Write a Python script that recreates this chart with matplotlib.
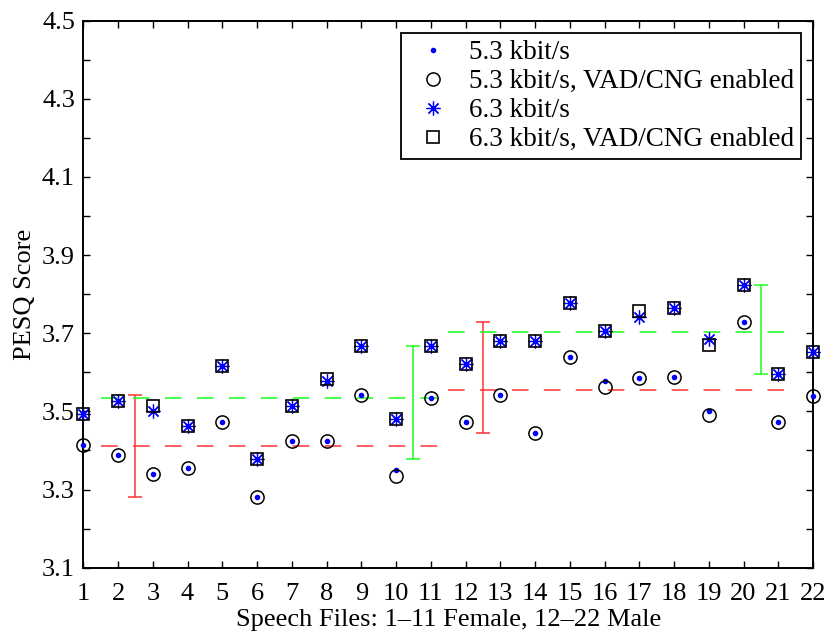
import matplotlib.pyplot as plt
import numpy as np

# PESQ scores per speech file (1-11 female, 12-22 male)
files = np.arange(1, 23)
pesq_53 = [3.415, 3.389, 3.341, 3.354, 3.472, 3.282, 3.425, 3.423, 3.541, 3.350, 3.535,
           3.474, 3.542, 3.446, 3.639, 3.579, 3.586, 3.589, 3.502, 3.729, 3.473, 3.539]
pesq_53_vad = [3.415, 3.389, 3.341, 3.354, 3.472, 3.282, 3.425, 3.423, 3.541, 3.335, 3.535,
               3.474, 3.542, 3.446, 3.639, 3.562, 3.586, 3.589, 3.491, 3.729, 3.473, 3.539]
pesq_63 = [3.493, 3.527, 3.502, 3.462, 3.617, 3.379, 3.513, 3.577, 3.668, 3.480, 3.668,
           3.621, 3.679, 3.679, 3.778, 3.706, 3.742, 3.764, 3.685, 3.824, 3.595, 3.653]
pesq_63_vad = [3.493, 3.527, 3.513, 3.462, 3.617, 3.379, 3.513, 3.583, 3.668, 3.480, 3.668,
               3.621, 3.679, 3.679, 3.778, 3.706, 3.757, 3.764, 3.670, 3.824, 3.595, 3.653]

labels = ['5.3 kbit/s', '5.3 kbit/s, VAD/CNG enabled',
          '6.3 kbit/s', '6.3 kbit/s, VAD/CNG enabled']

plt.rcParams['font.family'] = ['Liberation Serif', 'DejaVu Serif']
plt.rcParams['font.size'] = 19
plt.rcParams['lines.scale_dashes'] = False

fig = plt.figure(figsize=(8.28, 6.35), dpi=100)
ax = fig.add_axes([0.1006, 0.106, 0.8813, 0.8614])

blue = (0, 0, 1)
red = (1, 0.2, 0.2)
green = (0.1, 1, 0.1)

ax.plot(files, pesq_53, ls='none', marker='.', ms=6, color=blue, label=labels[0], clip_on=False, zorder=3)
ax.plot(files, pesq_53_vad, ls='none', marker='o', ms=9.5, mfc='none', mec='k', mew=1.1,
        label=labels[1], clip_on=False, zorder=3)
ax.plot(files, pesq_63, ls='none', marker=(8, 2, 0), ms=10, mec=blue, mew=0.9,
        label=labels[2], clip_on=False, zorder=3)
ax.plot(files, pesq_63_vad, ls='none', marker='s', ms=8.5, mfc='none', mec='k', mew=1.2,
        label=labels[3], clip_on=False, zorder=3)

# mean lines and min/max ranges, female (1-11) and male (12-22)
groups = [(slice(0, 11), 1.5, 11.5, 2.5, 10.5), (slice(11, 22), 11.5, 21.5, 12.5, 20.5)]
for sl, x0, x1, xr, xg in groups:
    for vals, col, xe in [(np.array(pesq_53[sl]), red, xr), (np.array(pesq_63[sl]), green, xg)]:
        m = vals.mean()
        ax.plot([x0, x1], [m, m], color=col, lw=1.1, ls=(0, (12, 11)))
        ax.errorbar(xe, m, yerr=[[m - vals.min()], [vals.max() - m]], fmt='none',
                    ecolor=col, elinewidth=1.1, capsize=5, capthick=1.1)

ax.set_xlim(1, 22)
ax.set_ylim(3.1, 4.5)
ax.set_xticks(files)
ax.set_yticks(np.arange(3.1, 4.51, 0.2))
ax.set_yticks(np.arange(3.1, 4.51, 0.1), minor=True)
ax.set_yticklabels(['%.1f' % v for v in np.arange(3.1, 4.51, 0.2)])
ax.tick_params(which='both', direction='in', top=True, right=True, length=5, width=1)
ax.tick_params(axis='x', pad=11)
ax.tick_params(axis='y', pad=6)
for s in ax.spines.values():
    s.set_linewidth(1.4)

ax.set_xlabel('Speech Files: 1–11 Female, 12–22 Male', labelpad=3)
ax.set_ylabel('PESQ Score', labelpad=4)

leg = ax.legend(loc='upper right', bbox_to_anchor=(0.9835, 0.977), borderaxespad=0,
                fancybox=False, framealpha=1, edgecolor='k', handlelength=1.8,
                handletextpad=0.45, borderpad=0.25, labelspacing=0.15, fontsize=19.5)
leg.get_frame().set_linewidth(1.3)

fig.savefig('out.png', dpi=100)
